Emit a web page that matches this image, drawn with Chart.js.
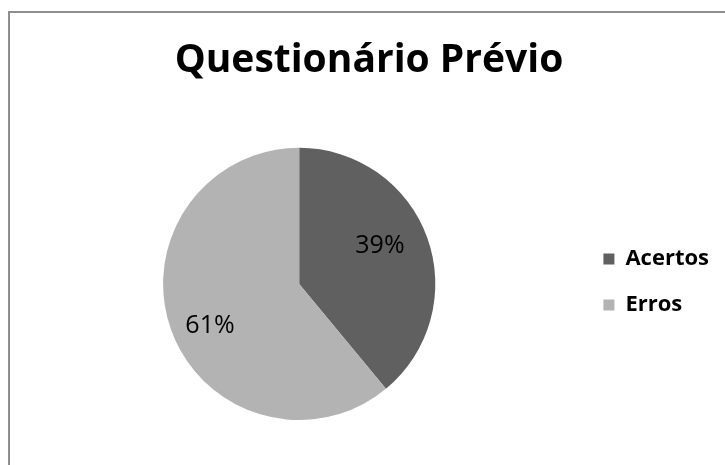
<!DOCTYPE html>
<html>
<head>
<meta charset="utf-8">
<script src="https://cdn.jsdelivr.net/npm/chart.js@4/dist/chart.umd.min.js"></script>
<style>
  html, body { margin: 0; padding: 0; background: #fff; overflow: hidden; }
  #frame { position: absolute; left: 8px; top: 11px; width: 800px; height: 520px; border: 2px solid #8e8e8e; }
  canvas { position: absolute; left: 0; top: 0; }
</style>
</head>
<body>
<div id="frame"></div>
<canvas id="myChart" width="725" height="465"></canvas>
<script>
const labels = ['Acertos', 'Erros'];
const values = [39, 61];
const colors = ['#606060', '#b3b3b3'];

// percent labels inside each slice (placed like Excel's best fit)
const sliceLabels = {
  id: 'sliceLabels',
  afterDatasetsDraw(chart) {
    const ctx = chart.ctx;
    const meta = chart.getDatasetMeta(0);
    const total = values.reduce((a, b) => a + b, 0);
    const dist = [0.656, 0.725];
    const shift = -5.5 * Math.PI / 180;
    ctx.save();
    ctx.font = '25px "Open Sans"';
    ctx.fillStyle = '#000';
    ctx.textAlign = 'center';
    ctx.textBaseline = 'middle';
    meta.data.forEach((arc, i) => {
      const p = arc.getProps(['x', 'y', 'startAngle', 'endAngle', 'outerRadius'], true);
      const mid = (p.startAngle + p.endAngle) / 2 + shift;
      const r = p.outerRadius * dist[i];
      ctx.fillText(Math.round(values[i] / total * 100) + '%', p.x + Math.cos(mid) * r, p.y + Math.sin(mid) * r);
    });
    ctx.restore();
  }
};

const chart = new Chart('myChart', {
  type: 'pie',
  data: {
    labels: labels,
    datasets: [{
      data: values,
      backgroundColor: colors,
      borderWidth: 0
    }]
  },
  options: {
    responsive: false,
    animation: false,
    layout: {
      padding: { left: 19, right: 6, top: 0, bottom: 45 }
    },
    plugins: {
      title: {
        display: true,
        text: 'Questionário Prévio',
        color: '#000',
        font: { family: 'Open Sans', size: 39, weight: 'bold' },
        padding: { top: 37, bottom: 64 }
      },
      legend: {
        position: 'right',
        align: 'start',
        title: {
          display: true,
          text: '',
          font: { size: 12 },
          padding: { top: 209.6, bottom: 0 }
        },
        labels: {
          color: '#000',
          font: { family: 'Open Sans', size: 22, weight: 'bold' },
          boxWidth: 11,
          boxHeight: 11,
          padding: 24
        }
      },
      tooltip: { enabled: false }
    }
  },
  plugins: [sliceLabels]
});
</script>
</body>
</html>
